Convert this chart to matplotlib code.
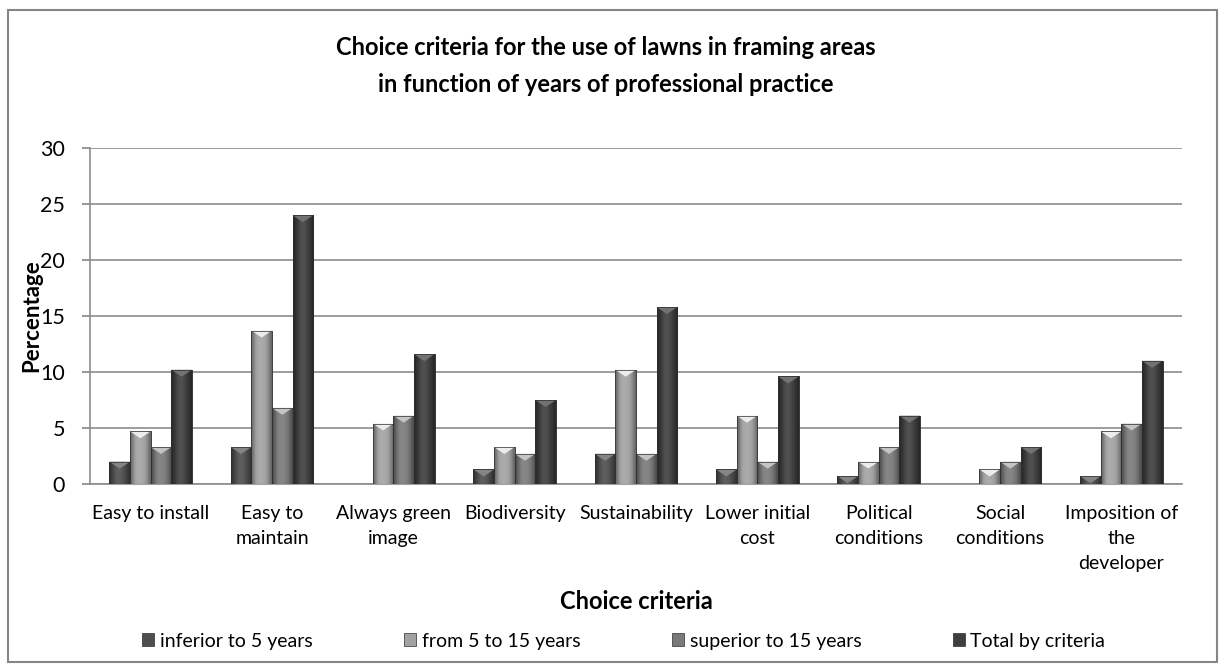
import numpy as np
import matplotlib
matplotlib.use("Agg")
import matplotlib.pyplot as plt
from matplotlib.patches import Polygon, Rectangle, Patch
from matplotlib.colors import LinearSegmentedColormap

plt.rcParams['font.family'] = ['Lato', 'DejaVu Sans']

categories = ['Easy to install', 'Easy to\nmaintain', 'Always green\nimage', 'Biodiversity',
              'Sustainability', 'Lower initial\ncost', 'Political\nconditions',
              'Social\nconditions', 'Imposition of\nthe\ndeveloper']
series_names = ['inferior to 5 years', 'from 5 to 15 years', 'superior to 15 years', 'Total by criteria']
inferior = [2.0, 3.3, 0, 1.3, 2.7, 1.3, 0.7, 0, 0.7]
from_5_15 = [4.7, 13.7, 5.4, 3.3, 10.2, 6.1, 2.0, 1.3, 4.7]
superior = [3.3, 6.8, 6.1, 2.7, 2.7, 2.0, 3.3, 2.0, 5.4]
total = [10.2, 24.0, 11.6, 7.5, 15.8, 9.6, 6.1, 3.3, 11.0]

values = [inferior, from_5_15, superior, total]
body_colors = ['#4e4e4e', '#a2a2a2', '#7a7a7a', '#3e3e3e']
top_colors = ['#858585', '#ececec', '#c4c4c4', '#727272']

W, H = 1219, 664
fig = plt.figure(figsize=(W / 100, H / 100), dpi=100)
ax = fig.add_axes([90 / W, 1 - 484 / H, 1092 / W, 336 / H])

x = np.arange(len(categories))
bw = 0.17
ymax = 30
dy_px = ymax / 336.0  # data units per pixel

for i, (vals, bc, tc) in enumerate(zip(values, body_colors, top_colors)):
    bars = ax.bar(x + (i - 1.5) * bw, vals, bw, color=bc, edgecolor='#2e2e2e',
                  linewidth=0.4, zorder=3, label=series_names[i])
    cmap = LinearSegmentedColormap.from_list('c%d' % i, ['#000000', bc, '#ffffff'])
    profile = np.array([[0.32, 0.42, 0.5, 0.54, 0.55, 0.54, 0.52, 0.48, 0.42, 0.32]])
    for b in bars:
        h = b.get_height()
        if h <= 0:
            continue
        bx, w = b.get_x(), b.get_width()
        im = ax.imshow(profile, cmap=cmap, vmin=0, vmax=1, aspect='auto',
                       extent=[bx, bx + w, 0, h], interpolation='bicubic', zorder=3.5)
        im.set_clip_path(b)
        dh = min(7 * dy_px, h)
        tri = Polygon([(bx, h), (bx + w, h), (bx + w / 2, h - dh)], closed=True,
                      facecolor=tc, edgecolor='none', zorder=4)
        ax.add_patch(tri)
        ax.add_patch(Rectangle((bx, 0), w, h, fill=False, edgecolor='#2e2e2e',
                               linewidth=0.5, zorder=4.5))

ax.set_xlim(-0.5, len(categories) - 0.5)
ax.set_ylim(0, ymax)
ax.set_yticks(range(0, 31, 5))
ax.set_xticks(x)
ax.set_xticklabels(categories, fontsize=14, linespacing=1.58, va='top')
ax.tick_params(axis='x', length=0, pad=15)
ax.tick_params(axis='y', labelsize=15.5, length=6, width=1.2, color='#868686', pad=12)
ax.yaxis.grid(True, color='#8c8c8c', linewidth=1.2, zorder=0)
ax.set_axisbelow(True)
for s in ['top', 'right']:
    ax.spines[s].set_visible(False)
for s in ['left', 'bottom']:
    ax.spines[s].set_color('#8c8c8c')
    ax.spines[s].set_linewidth(1.2)

ax.set_ylabel('Percentage', fontsize=16, fontweight='bold')
ax.yaxis.set_label_coords(-0.044, 0.5)
ax.set_xlabel('Choice criteria', fontsize=17, fontweight='bold')
ax.xaxis.set_label_coords(0.5, -0.315)

fig.text(0.497, 1 - 66 / H,
         'Choice criteria for the use of lawns in framing areas\nin function of years of professional practice',
         ha='center', va='center', fontsize=17, fontweight='bold', linespacing=1.69)

# legend entries placed along the bottom
leg_x = [142, 404, 672, 953]
for i in range(4):
    h = Patch(facecolor=body_colors[i], edgecolor='#2e2e2e', linewidth=0.5)
    lg = fig.legend([h], [series_names[i]], loc='center left',
                    bbox_to_anchor=(leg_x[i] / W, 1 - 641 / H), frameon=False,
                    fontsize=14, handlelength=0.6, handleheight=0.6,
                    handletextpad=0.3, borderpad=0, borderaxespad=0)

fig.patches.append(Rectangle((8 / W, 2 / H), 1209 / W, 652 / H, transform=fig.transFigure,
                             fill=False, edgecolor='#868686', linewidth=1.5))

fig.savefig('out.png', dpi=100)
